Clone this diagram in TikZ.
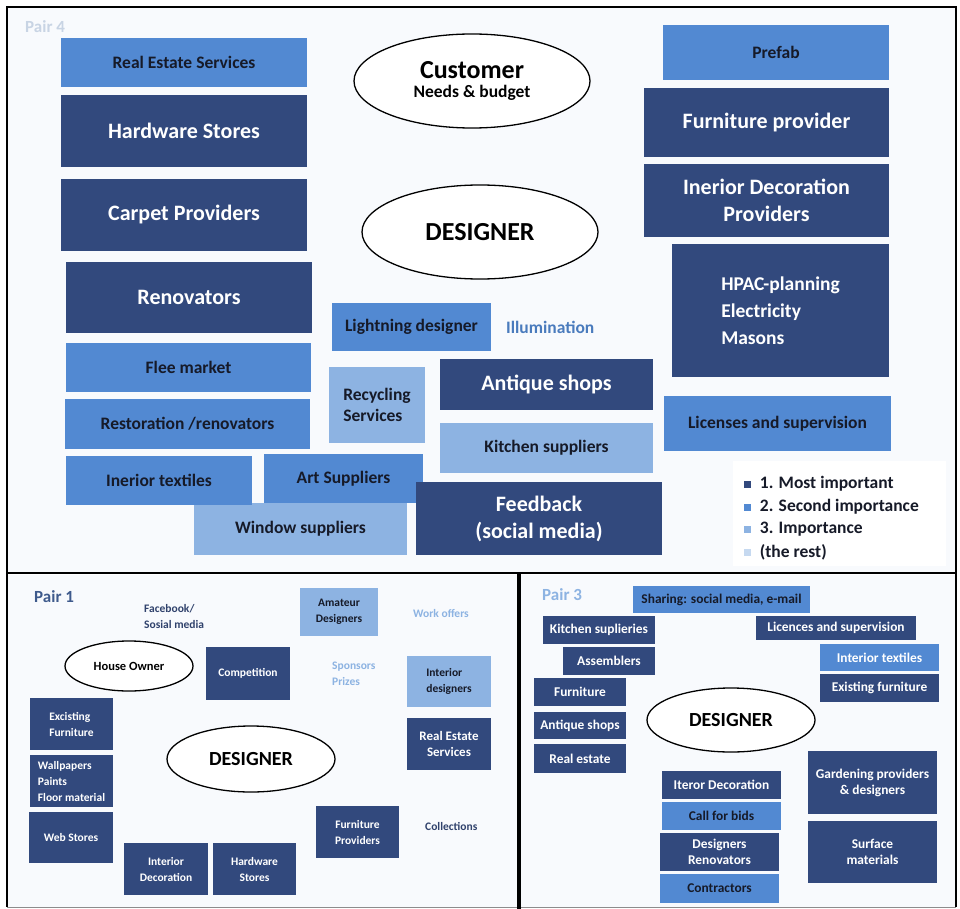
\documentclass[tikz,border=0pt]{standalone}
\usepackage{fontspec}
\setmainfont{Carlito}
\usepackage{tikz}
\usetikzlibrary{shapes.geometric, positioning}
\definecolor{navy}{RGB}{50,73,125}
\definecolor{midblue}{RGB}{82,137,210}
\definecolor{paleblue}{RGB}{141,179,226}
\definecolor{faintblue}{RGB}{198,217,240}
\definecolor{inkblack}{RGB}{22,26,40}
\definecolor{panelbg}{RGB}{248,250,253}
\definecolor{pairgrey}{RGB}{200,212,228}
\definecolor{pairblue}{RGB}{62,90,140}
\definecolor{notedark}{RGB}{48,66,108}
\tikzstyle{base} = [rectangle, anchor=north west, inner sep=0pt, outer sep=0pt, align=center]
\tikzstyle{prio1} = [base, fill=navy, text=white]
\tikzstyle{prio2} = [base, fill=midblue, text=inkblack]
\tikzstyle{prio3} = [base, fill=paleblue, text=inkblack]
\tikzstyle{actor} = [ellipse, draw=black, fill=white, line width=1.3pt, inner sep=0pt, align=center]
\tikzstyle{note} = [anchor=west, inner sep=0pt, align=left]
\tikzstyle{legsq} = [rectangle, minimum size=7pt, inner sep=0pt]
\tikzstyle{bigtext} = [font=\bfseries\fontsize{22}{27}\selectfont]
\tikzstyle{midtext} = [font=\bfseries\fontsize{17.5}{21}\selectfont]
\tikzstyle{smalltext} = [font=\bfseries\fontsize{13.4}{16}\selectfont]
\tikzstyle{tinytext} = [font=\bfseries\fontsize{11.5}{16}\selectfont]

\begin{document}
\begin{tikzpicture}[x=1pt, y=-1pt]
\useasboundingbox (0,0) rectangle (960,909);

% panels
\fill[panelbg] (8,8) rectangle (955,572);
\fill[panelbg] (8,575) rectangle (518,907);
\fill[panelbg] (521,575) rectangle (955,907);
\draw[line width=2.5pt] (7,7) rectangle (956,573);
\draw[line width=2.5pt] (7,573) -- (7,907);
\draw[line width=2.5pt] (956,573) -- (956,907);
\draw[line width=1pt, black!45] (7,907) -- (956,907);
\draw[line width=3.5pt] (519,573) -- (519,909);

% ---- Pair 4 ----
\node[note, text=pairgrey, font=\bfseries\fontsize{17}{20}\selectfont] (pair4) at (25,27) {Pair 4};

% left column
\node[prio2, midtext, minimum width=246pt, minimum height=49pt] (realestate) at (61,38) {Real Estate Services};
\node[prio1, bigtext, minimum width=246pt, minimum height=72pt] (hardware) at (61,95) {Hardware Stores};
\node[prio1, bigtext, minimum width=246pt, minimum height=72pt] (carpet) at (61,179) {Carpet Providers};
\node[prio1, bigtext, minimum width=246pt, minimum height=71pt] (renovators) at (66,262) {Renovators};
\node[prio2, midtext, minimum width=245pt, minimum height=49pt] (flee) at (66,343) {Flee market};
\node[prio2, midtext, minimum width=245pt, minimum height=50pt] (restoration) at (65,399) {Restoration /renovators};
\node[prio3, midtext, minimum width=213pt, minimum height=52pt] (window) at (194,503) {Window suppliers};
\node[prio2, midtext, minimum width=186pt, minimum height=49pt] (textiles) at (66,456) {Inerior textiles};
\node[prio2, midtext, minimum width=159pt, minimum height=49pt] (art) at (264,454) {Art Suppliers};

% middle
\node[actor, minimum width=236pt, minimum height=94pt, font=\bfseries\fontsize{26}{28}\selectfont] (customer) at (472,81) {Customer\\[-9pt]{\fontsize{17.5}{20}\selectfont Needs \& budget}};
\node[actor, minimum width=236pt, minimum height=94pt, font=\bfseries\fontsize{26}{28}\selectfont] (designer) at (480,232) {DESIGNER};
\node[prio2, midtext, minimum width=159pt, minimum height=48pt] (lightning) at (332,303) {Lightning designer};
\node[note, midtext, text=midblue!90!black] (illumination) at (506,327) {Illumination};
\node[prio3, midtext, minimum width=96pt, minimum height=76pt, align=left] (recycling) at (329,367) {Recycling\\Services};
\node[prio1, bigtext, minimum width=213pt, minimum height=51pt] (antique) at (440,359) {Antique shops};
\node[prio3, midtext, minimum width=213pt, minimum height=50pt] (kitchen) at (440,423) {Kitchen suppliers};
\node[prio1, bigtext, minimum width=246pt, minimum height=73pt] (feedback) at (416,482) {Feedback\\(social media)};

% right column
\node[prio2, midtext, minimum width=226pt, minimum height=55pt] (prefab) at (663,25) {Prefab};
\node[prio1, bigtext, minimum width=245pt, minimum height=69pt] (furniture) at (644,88) {Furniture provider};
\node[prio1, bigtext, minimum width=245pt, minimum height=73pt] (decoration) at (644,164) {Inerior Decoration\\Providers};
\node[prio1, font=\bfseries\fontsize{19.5}{27}\selectfont, minimum width=217pt, minimum height=133pt, align=left] (hpac) at (672,244) {HPAC-planning\\Electricity\\Masons};
\node[prio2, midtext, minimum width=227pt, minimum height=55pt] (licenses) at (664,396) {Licenses and supervision};

% legend
\fill[white] (733,461) rectangle (946,566);
\node[legsq, fill=navy] (sq1) at (747,484) {};
\node[legsq, fill=midblue] (sq2) at (747,507) {};
\node[legsq, fill=paleblue] (sq3) at (747,529) {};
\node[legsq, fill=faintblue] (sq4) at (747,552) {};
\node[right=9pt of sq1, inner sep=0pt, midtext, text=inkblack] (leg1) {1. Most important};
\node[right=9pt of sq2, inner sep=0pt, midtext, text=inkblack] (leg2) {2. Second importance};
\node[right=9pt of sq3, inner sep=0pt, midtext, text=inkblack] (leg3) {3. Importance};
\node[right=9pt of sq4, inner sep=0pt, midtext, text=inkblack] (leg4) {(the rest)};

% ---- Pair 1 ----
\node[note, text=pairblue, font=\bfseries\fontsize{17}{20}\selectfont] (pair1) at (34,597) {Pair 1};
\node[note, tinytext, text=notedark] (facebook) at (144,617) {Facebook/\\Sosial media};
\node[prio3, tinytext, minimum width=78pt, minimum height=48pt] (amateur) at (300,588) {Amateur\\Designers};
\node[note, tinytext, text=paleblue] (workoffers) at (413,613) {Work offers};
\node[actor, minimum width=128pt, minimum height=50pt, font=\bfseries\fontsize{12.5}{14}\selectfont] (owner) at (129,666) {House Owner};
\node[prio1, tinytext, minimum width=84pt, minimum height=53pt] (competition) at (206,647) {Competition};
\node[note, tinytext, text=paleblue] (sponsors) at (332,674) {Sponsors\\Prizes};
\node[prio3, tinytext, minimum width=84pt, minimum height=51pt, align=left] (intdesigners) at (407,656) {Interior\\designers};
\node[prio1, font=\bfseries\fontsize{13}{16}\selectfont, minimum width=84pt, minimum height=52pt] (realestate1) at (407,718) {Real Estate\\Services};
\node[prio1, tinytext, minimum width=83pt, minimum height=52pt, align=left] (existing1) at (30,698) {Excisting\\Furniture};
\node[prio1, tinytext, minimum width=83pt, minimum height=52pt, align=left] (wallpapers) at (30,755) {Wallpapers\\Paints\\Floor material};
\node[prio1, tinytext, minimum width=84pt, minimum height=51pt] (webstores) at (29,812) {Web Stores};
\node[actor, minimum width=168pt, minimum height=66pt, font=\bfseries\fontsize{20}{22}\selectfont] (designer1) at (251,759) {DESIGNER};
\node[prio1, tinytext, minimum width=84pt, minimum height=52pt] (intdeco1) at (124,843) {Interior\\Decoration};
\node[prio1, tinytext, minimum width=83pt, minimum height=52pt] (hardware1) at (213,843) {Hardware\\Stores};
\node[prio1, tinytext, minimum width=83pt, minimum height=52pt] (furniture1) at (316,806) {Furniture\\Providers};
\node[note, tinytext, text=notedark] (collections) at (425,826) {Collections};

% ---- Pair 3 ----
\node[note, text=paleblue, font=\bfseries\fontsize{17}{20}\selectfont] (pair3) at (542,595) {Pair 3};
\node[prio2, smalltext, minimum width=177pt, minimum height=27pt] (sharing) at (633,586) {Sharing: social media, e-mail};
\node[prio1, smalltext, minimum width=112pt, minimum height=28pt] (kitchen3) at (543,616) {Kitchen suplieries};
\node[prio1, smalltext, minimum width=92pt, minimum height=28pt] (assemblers) at (563,647) {Assemblers};
\node[prio1, smalltext, minimum width=92pt, minimum height=28pt] (furniture3) at (534,678) {Furniture};
\node[prio1, smalltext, minimum width=92pt, minimum height=27pt] (antique3) at (534,712) {Antique shops};
\node[prio1, smalltext, minimum width=92pt, minimum height=29pt] (realestate3) at (534,744) {Real estate};
\node[prio1, smalltext, minimum width=160pt, minimum height=24pt] (licences3) at (756,616) {Licences and supervision};
\node[prio2, smalltext, text=white, minimum width=119pt, minimum height=27pt] (textiles3) at (820,644) {Interior textiles};
\node[prio1, smalltext, minimum width=119pt, minimum height=28pt] (existing3) at (820,674) {Existing furniture};
\node[actor, minimum width=168pt, minimum height=64pt, font=\bfseries\fontsize{20}{22}\selectfont] (designer3) at (731,720) {DESIGNER};
\node[prio1, smalltext, minimum width=119pt, minimum height=28pt] (iteror) at (662,771) {Iteror Decoration};
\node[prio2, smalltext, minimum width=119pt, minimum height=28pt] (bids) at (662,802) {Call for bids};
\node[prio1, smalltext, minimum width=119pt, minimum height=38pt] (designren) at (660,833) {Designers\\Renovators};
\node[prio2, smalltext, minimum width=119pt, minimum height=29pt] (contractors) at (660,874) {Contractors};
\node[prio1, smalltext, minimum width=129pt, minimum height=63pt] (gardening) at (808,751) {Gardening providers\\\& designers};
\node[prio1, smalltext, minimum width=129pt, minimum height=62pt] (surface) at (808,821) {Surface\\materials};

\end{tikzpicture}
\end{document}
